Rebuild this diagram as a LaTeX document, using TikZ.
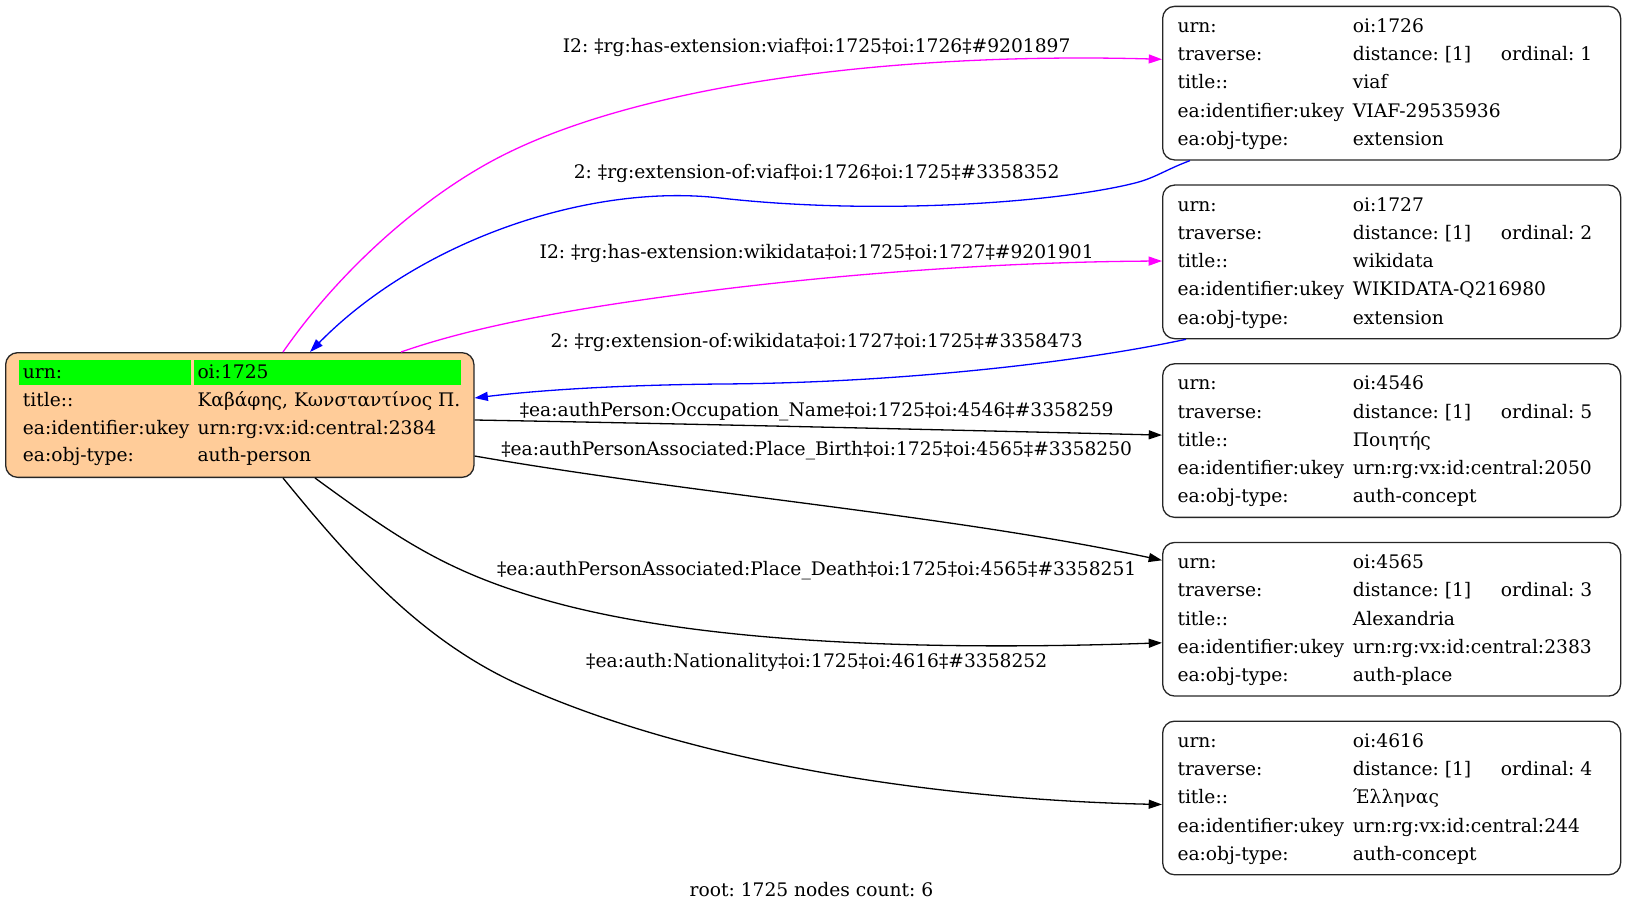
\documentclass[tikz,border=0pt]{standalone}
\usepackage{fontspec}
\setmainfont{DejaVu Serif}
\usetikzlibrary{arrows.meta}
\frenchspacing
\newcommand\gvf{\fontsize{18.67}{22}\selectfont\frenchspacing}
\definecolor{peach}{RGB}{255,204,153}
\definecolor{gvgreen}{RGB}{0,255,0}
\definecolor{gvmag}{RGB}{255,0,255}
\definecolor{gvblue}{RGB}{0,0,255}
\tikzset{
  rbox/.style={draw=black!85, line width=1.3pt, rounded corners=12pt, minimum width=458pt, minimum height=153.6pt, anchor=north west, inner sep=0pt},
  rootbox/.style={draw=black!85, fill=peach, line width=1.3pt, rounded corners=12pt, minimum width=468.3pt, minimum height=124.7pt, anchor=north west, inner sep=0pt},
  cellbox/.style={fill=gvgreen, anchor=north west, inner sep=0pt, minimum height=24.3pt},
  txt/.style={anchor=base west, inner sep=0pt, font=\gvf},
  elabel/.style={anchor=center, inner sep=0pt, font=\gvf},
  edge/.style={line width=1.3pt, -{Triangle[length=13.3pt,width=9pt]}},
}
\newcommand\mkright[7]{%
  \node[rbox] (#1) at (1162,#2) {};
  \node[txt] (#1a1) at (1177.3,{#2+26.6}) {urn:};
  \node[txt] (#1b1) at (1352.7,{#2+26.6}) {#3};
  \node[txt] (#1a2) at (1177.3,{#2+54.9}) {traverse:};
  \node[txt] (#1b2) at (1352.7,{#2+54.9}) {distance: [1]};
  \node[txt] (#1c2) at (1500.7,{#2+54.9}) {ordinal: #4};
  \node[txt] (#1a3) at (1177.3,{#2+83.2}) {title::};
  \node[txt] (#1b3) at (1352.7,{#2+83.2}) {#5};
  \node[txt] (#1a4) at (1177.3,{#2+111.5}) {ea:identifier:ukey};
  \node[txt] (#1b4) at (1352.7,{#2+111.5}) {#6};
  \node[txt] (#1a5) at (1177.3,{#2+139.8}) {ea:obj-type:};
  \node[txt] (#1b5) at (1352.7,{#2+139.8}) {#7};
}
\begin{document}
\begin{tikzpicture}[x=1pt,y=-1pt]
\useasboundingbox (0,0) rectangle (1625,911);
% root node
\node[rootbox] (r) at (5,352) {};
\node[cellbox, minimum width=172pt] (rg1) at (19,360) {};
\node[cellbox, minimum width=266.7pt] (rg2) at (194,360) {};
\node[txt] (ra1) at (22.7,378.3) {urn:};
\node[txt] (rb1) at (197.3,378.3) {oi:1725};
\node[txt] (ra2) at (22.7,406.3) {title::};
\node[txt] (rb2) at (197.3,406.3) {Καβάφης, Κωνσταντίνος Π.};
\node[txt] (ra3) at (22.7,434.1) {ea:identifier:ukey};
\node[txt] (rb3) at (197.3,434.1) {urn:rg:vx:id:central:2384};
\node[txt] (ra4) at (22.7,461.8) {ea:obj-type:};
\node[txt] (rb4) at (197.3,461.8) {auth-person};
% right nodes
\mkright{n1}{5.7}{oi:1726}{1}{viaf}{VIAF-29535936}{extension}
\mkright{n2}{184.4}{oi:1727}{2}{wikidata}{WIKIDATA-Q216980}{extension}
\mkright{n3}{363.1}{oi:4546}{5}{Ποιητής}{urn:rg:vx:id:central:2050}{auth-concept}
\mkright{n4}{541.8}{oi:4565}{3}{Alexandria}{urn:rg:vx:id:central:2383}{auth-place}
\mkright{n5}{720.5}{oi:4616}{4}{Έλληνας}{urn:rg:vx:id:central:244}{auth-concept}
% edges
\draw[edge, gvmag] ([xshift=278pt]r.north west) .. controls (340,270) and (420,200) .. (492,161)
  .. controls (636,83) and (900,52) .. ([yshift=-53.6pt]n1.north west);
\draw[edge, gvblue] ([xshift=28pt]n1.south west) .. controls (1165,170) and (1155,178) .. (1135,183)
  .. controls (1060,202) and (880,216) .. (720,198)
  .. controls (590,183) and (420,240) .. ([xshift=305pt]r.north west);
\draw[edge, gvmag] ([xshift=396pt]r.north west) .. controls (470,328) and (560,310) .. (700,292)
  .. controls (840,274) and (1000,262) .. ([yshift=-76.6pt]n2.north west);
\draw[edge, gvblue] ([xshift=24pt]n2.south west) .. controls (1080,362) and (900,383) .. (720,384)
  .. controls (620,385) and (540,390) .. ([yshift=-46pt]r.north east);
\draw[edge, black] ([yshift=-68pt]r.north east) .. controls (700,424) and (950,430) .. ([yshift=-72pt]n3.north west);
\draw[edge, black] ([yshift=-104pt]r.north east) .. controls (700,495) and (950,515) .. ([yshift=-18.5pt]n4.north west);
\draw[edge, black] ([xshift=310pt]r.south west) .. controls (400,540) and (450,575) .. (560,604)
  .. controls (720,646) and (950,650) .. ([yshift=-101pt]n4.north west);
\draw[edge, black] ([xshift=278pt]r.south west) .. controls (350,560) and (420,640) .. (520,685)
  .. controls (700,766) and (950,800) .. ([yshift=-84pt]n5.north west);
% edge labels
\node[elabel] (l1) at (816.7,47.6) {I2: ‡rg:has-extension:viaf‡oi:1725‡oi:1726‡\#9201897};
\node[elabel] (l2) at (816.7,173) {2: ‡rg:extension-of:viaf‡oi:1726‡oi:1725‡\#3358352};
\node[elabel] (l3) at (816.7,253.8) {I2: ‡rg:has-extension:wikidata‡oi:1725‡oi:1727‡\#9201901};
\node[elabel] (l4) at (816.7,342) {2: ‡rg:extension-of:wikidata‡oi:1727‡oi:1725‡\#3358473};
\node[elabel] (l5) at (816.7,411.4) {‡ea:authPerson:Occupation\_Name‡oi:1725‡oi:4546‡\#3358259};
\node[elabel] (l6) at (816.7,450.8) {‡ea:authPersonAssociated:Place\_Birth‡oi:1725‡oi:4565‡\#3358250};
\node[elabel] (l7) at (816.7,571) {‡ea:authPersonAssociated:Place\_Death‡oi:1725‡oi:4565‡\#3358251};
\node[elabel] (l8) at (816.7,662) {‡ea:auth:Nationality‡oi:1725‡oi:4616‡\#3358252};
\node[elabel] (foot) at (811.5,890) {root: 1725 nodes count: 6};
\end{tikzpicture}
\end{document}
